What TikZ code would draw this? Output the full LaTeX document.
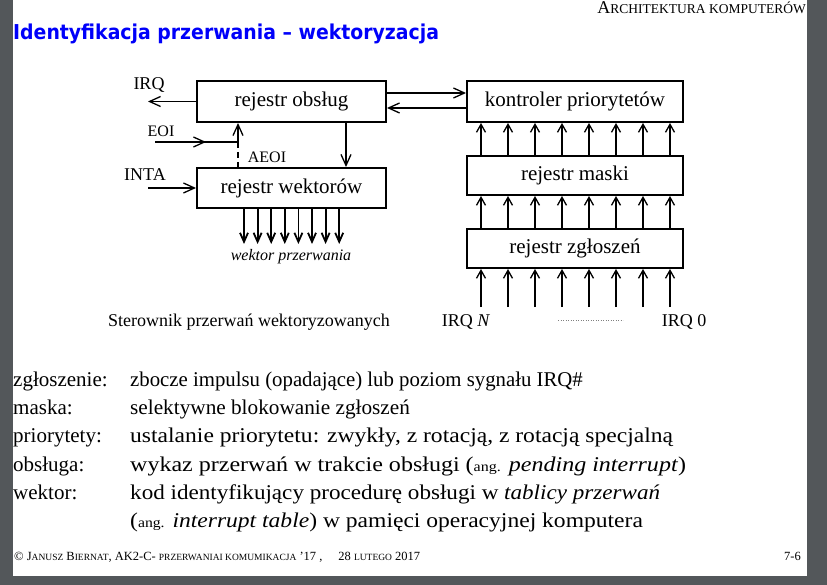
\documentclass[tikz,border=0pt]{standalone}
\usepackage{fontspec}
\setmainfont{Liberation Serif}
\newfontfamily\headingfont[FakeStretch=0.92]{DejaVu Sans}
\newfontfamily\bodyfont[FakeStretch=1.1]{Liberation Serif}
\usetikzlibrary{arrows.meta}

\definecolor{deskgray}{RGB}{83,87,90}
\definecolor{headblue}{RGB}{0,0,250}

% imitation small capitals for the running head and foot
\newcommand{\hsc}[1]{{\fontsize{13.5}{15}\selectfont #1}}
\newcommand{\fsc}[1]{{\fontsize{9.5}{11}\selectfont #1}}
\newcommand{\angsm}{{\fontsize{14}{16}\selectfont ang.}}
% horizontally scaled line of running text
\newcommand{\wline}[2]{\scalebox{#1}[1]{#2}}

\tikzset{
  regbox/.style={draw, line width=2pt, inner sep=0pt, font=\fontsize{21}{24}\selectfont},
  sig/.style={line width=1.3pt, -{Straight Barb[length=11pt,width=10pt]}},
  bus/.style={line width=1.3pt, -{Straight Barb[length=8pt,width=9pt]}},
  vecbus/.style={line width=1.8pt, -{Straight Barb[length=9pt,width=8pt]}},
  wire/.style={line width=1.3pt},
  lbl/.style={inner sep=0pt, font=\fontsize{18}{21}\selectfont},
  smalllbl/.style={inner sep=0pt, font=\fontsize{16}{19}\selectfont},
  termline/.style={anchor=base west, inner sep=0pt, font=\fontsize{21}{24}\selectfont},
  bodyline/.style={anchor=base west, inner sep=0pt, font=\bodyfont\fontsize{21}{24}\selectfont},
  footline/.style={anchor=base west, inner sep=0pt, font=\fontsize{12.5}{14}\selectfont},
}

\begin{document}
\begin{tikzpicture}[x=1pt, y=-1pt]
\useasboundingbox (0,0) rectangle (827,585);
% desk and page
\fill[deskgray] (0,0) rectangle (827,585);
\fill[white] (13,0) rectangle (807,576);

% running head and title
\node[anchor=base east, inner sep=0pt, font=\fontsize{18}{20}\selectfont] (head) at (806,14)
  {A\hsc{RCHITEKTURA KOMPUTERÓW}};
\node[anchor=base west, inner sep=0pt, text=headblue,
      font=\headingfont\bfseries\fontsize{20.5}{24}\selectfont] (title) at (13,40)
  {Identyfikacja przerwania – wektoryzacja};

% registers
\node[regbox, minimum width=189pt, minimum height=41pt] (obs) at (291.5,101.5) {rejestr obsług};
\node[regbox, minimum width=189pt, minimum height=40pt] (wek) at (291.5,188) {rejestr wektorów};
\node[regbox, minimum width=216pt, minimum height=41pt] (kon) at (575,101.5) {kontroler priorytetów};
\node[regbox, minimum width=216pt, minimum height=39pt] (mas) at (575,175.5) {rejestr maski};
\node[regbox, minimum width=216pt, minimum height=39pt] (zgl) at (575,248.5) {rejestr zgłoszeń};

% IRQ output
\coordinate (irqout) at (148,101.5);
\draw[sig] (obs.west) -- (irqout);
\node[lbl] (irqlbl) at (149,85) {IRQ};

% EOI / AEOI into the service register
\coordinate (eoiin) at (155,142);
\coordinate (eoitip) at (206,142);
\coordinate (junc) at (238,142);
\draw[wire] (eoiin) -- (junc);
\draw[sig] (eoiin) -- (eoitip);
\node[smalllbl] (eoilbl) at (161,131) {EOI};
\draw[sig] (junc) -- (junc |- obs.south);
\draw[wire, dash pattern=on 6pt off 4pt] (junc) -- (junc |- wek.north);
\node[smalllbl] (aeoilbl) at (267,157) {AEOI};

% service register to vector register
\draw[sig] ([xshift=54.5pt]obs.south) -- ([xshift=54.5pt]wek.north);

% INTA
\coordinate (intain) at (148,188);
\draw[sig] (intain) -- (wek.west);
\node[lbl] (intalbl) at (145,175) {INTA};

% vector outputs
\foreach \i in {0,...,7} {
  \pgfmathsetmacro{\vx}{244+\i*13.6}
  \draw[vecbus] (\vx,0 |- wek.south) -- (\vx,244);
}
\node[smalllbl, font=\fontsize{16}{19}\selectfont\itshape] (veclbl) at (291,257) {wektor przerwania};

% service register <-> priority controller
\draw[sig] (obs.east |- 0,93) -- (kon.west |- 0,93);
\draw[sig] (kon.west |- 0,108) -- (obs.east |- 0,108);

% request lines through mask to priority controller
\foreach \i in {0,...,7} {
  \pgfmathsetmacro{\cx}{481+\i*27}
  \draw[bus] (\cx,0 |- mas.north) -- (\cx,0 |- kon.south);
  \draw[bus] (\cx,0 |- zgl.north) -- (\cx,0 |- mas.south);
  \draw[bus] (\cx,307) -- (\cx,0 |- zgl.south);
}
\node[lbl] (irqn) at (466,322) {IRQ \textit{N}};
\node[lbl] (irq0) at (684,322) {IRQ 0};
\coordinate (dotl) at (558,320);
\coordinate (dotr) at (623,320);
\draw[line width=0.5pt, gray, dotted] (dotl) -- (dotr);
\node[lbl] (caption) at (249,322) {Sterownik przerwań wektoryzowanych};

% definitions
\node[termline] (t1) at (13,386.5) {zgłoszenie:};
\node[bodyline] (d1) at (130,386.5) {\wline{0.9}{zbocze impulsu (opadające) lub poziom sygnału IRQ\#}};
\node[termline] (t2) at (13,414.7) {maska:};
\node[bodyline] (d2) at (130,414.7) {\wline{0.92}{selektywne blokowanie zgłoszeń}};
\node[termline] (t3) at (13,442.9) {priorytety:};
\node[bodyline] (d3) at (130,442.9) {\wline{1.02}{ustalanie priorytetu: zwykły, z rotacją, z rotacją specjalną}};
\node[termline] (t4) at (13,471.1) {obsługa:};
\node[bodyline] (d4) at (130,471.1) {\wline{1.04}{wykaz przerwań w trakcie obsługi (\angsm{} \textit{pending interrupt})}};
\node[termline] (t5) at (13,499.3) {wektor:};
\node[bodyline] (d5) at (130,499.3) {kod identyfikujący procedurę obsługi w \textit{tablicy przerwań}};
\node[bodyline] (d6) at (130,527.5) {\wline{1.02}{(\angsm{} \textit{interrupt table}) w pamięci operacyjnej komputera}};

% running foot
\node[footline] (foot) at (14,560)
  {© J\fsc{ANUSZ} B\fsc{IERNAT}, AK2-C- \fsc{PRZERWANIAI KOMUMIKACJA} '17 ,\hspace{16pt}28 \fsc{LUTEGO} 2017};
\node[footline, anchor=base east] (page) at (801,560) {7-6};
\end{tikzpicture}
\end{document}
